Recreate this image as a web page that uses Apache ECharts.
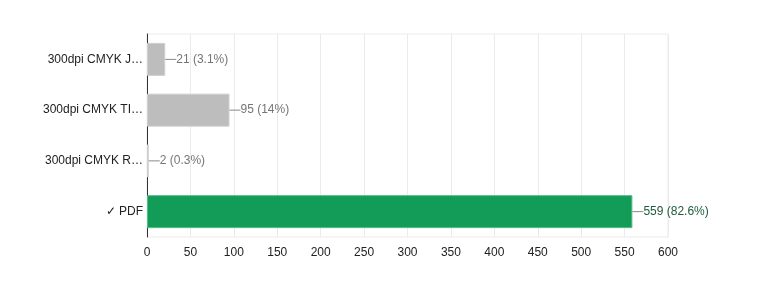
<!DOCTYPE html>
<html><head><meta charset="utf-8">
<script src="https://cdn.jsdelivr.net/npm/echarts@6/dist/echarts.min.js"></script>
<style>html,body{margin:0;padding:0;background:#fff}#c{width:770px;height:294px}</style>
</head><body><div id="c"></div>
<script>
const categories = ['300dpi CMYK J…', '300dpi CMYK TI…', '300dpi CMYK R…', '✓ PDF'];
const values = [21, 95, 2, 559];
const percents = ['3.1%', '14%', '0.3%', '82.6%'];
const xTicks = [0, 50, 100, 150, 200, 250, 300, 350, 400, 450, 500, 550, 600];
const barColors = ['#bdbdbd', '#bdbdbd', '#bdbdbd', '#129c58'];
const borderColors = ['#cfcfcf', '#cfcfcf', '#cfcfcf', '#57bd86'];
const labelColors = ['#757575', '#757575', '#757575', '#1e5a3c'];

const chart = echarts.init(document.getElementById('c'));
chart.setOption({
  animation: false,
  textStyle: { fontFamily: 'Liberation Sans, Arial, sans-serif' },
  grid: { left: 147, right: 102, top: 34, bottom: 57, show: true, borderColor: '#ebebeb', borderWidth: 1 },
  xAxis: {
    type: 'value', min: xTicks[0], max: xTicks[xTicks.length - 1], interval: xTicks[1] - xTicks[0],
    axisLine: { show: false }, axisTick: { show: false },
    splitLine: { lineStyle: { color: '#ebebeb' } },
    axisLabel: { color: '#222', fontSize: 12, margin: 10 }
  },
  yAxis: {
    type: 'category', data: categories, inverse: true,
    axisLine: { show: true, lineStyle: { color: '#333', width: 1 } },
    axisTick: { show: false },
    axisLabel: { color: '#222', fontSize: 12, margin: 4 }
  },
  series: [{
    type: 'bar', barWidth: 33,
    data: values.map((v, i) => ({
      value: v,
      itemStyle: { color: barColors[i], borderColor: borderColors[i], borderWidth: 1 },
      label: {
        show: true, position: 'right', distance: 0,
        formatter: '{l|}{t|' + v + ' (' + percents[i] + ')}',
        rich: {
          l: { width: 11, height: 1, backgroundColor: '#888' },
          t: { color: labelColors[i], fontSize: 12 }
        }
      }
    }))
  }]
});
</script></body></html>
